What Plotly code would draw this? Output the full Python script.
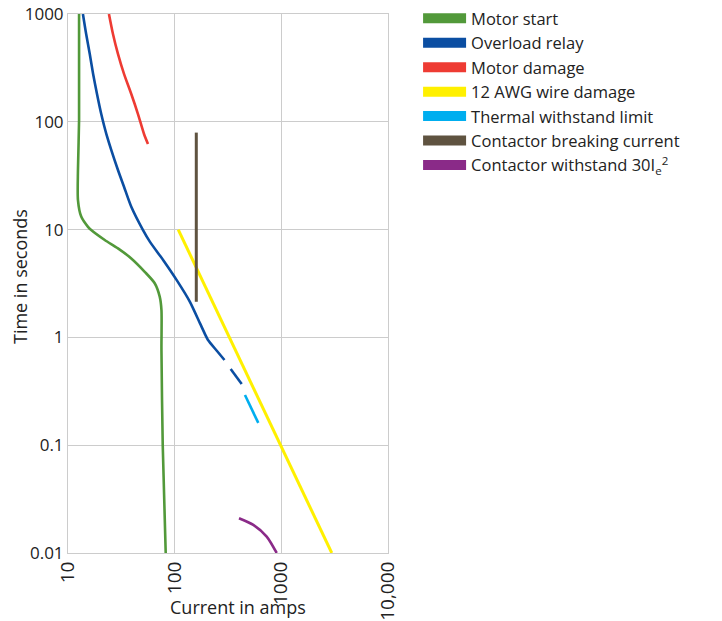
import plotly.graph_objects as go

# ---- data (current in amps, time in seconds) ----
motor_start_I = [12.7, 12.7, 12.4, 12.4, 13.3, 15.4, 16.5, 22.1, 29.4, 39.2, 52.4, 65.0, 72.4, 75.2, 75.2, 77.3, 82.4]
motor_start_t = [1000, 104, 35.7, 18.8, 13.2, 10.6, 9.9, 8.0, 6.7, 5.4, 4.06, 3.18, 2.39, 1.79, 0.76, 0.1, 0.01]

overload_I = [13.8, 14.8, 16.0, 17.2, 18.7, 20.5, 22.9, 29.4, 33.5, 39.2, 50.5, 58.7, 78.2, 104.5, 139, 172.8, 194.5, 205.3, 249.4, 293, None, 335, 425]
overload_t = [1000, 652, 426, 278, 181, 118, 77, 35.7, 25.0, 16.3, 9.9, 7.7, 5.2, 3.4, 2.14, 1.35, 1.05, 0.946, 0.748, 0.617, None, 0.509, 0.37]

motor_damage_I = [24.2, 26.4, 29.4, 33.5, 39.2, 45.3, 51.6, 56.2]
motor_damage_t = [1000, 652, 426, 278, 181, 118, 77, 62.2]

wire_damage_I = [108, 2970]
wire_damage_t = [10, 0.01]

thermal_I = [456, 608]
thermal_t = [0.292, 0.161]

breaking_I = [159.5, 159.5]
breaking_t = [79.4, 2.14]

withstand_I = [401, 546, 729, 905]
withstand_t = [0.021, 0.0182, 0.0142, 0.01]

x_tickvals = [10, 100, 1000, 10000]
x_ticktext = ["10", "100", "1000", "10,000"]
y_tickvals = [0.01, 0.1, 1, 10, 100, 1000]
y_ticktext = ["0.01", "0.1", "1", "10", "100", "1000"]

series = [
    ("Motor start", motor_start_I, motor_start_t, "#52993a", 2.6),
    ("Overload relay", overload_I, overload_t, "#0b4ea2", 2.6),
    ("Motor damage", motor_damage_I, motor_damage_t, "#ee3b33", 2.6),
    ("12 AWG wire damage", wire_damage_I, wire_damage_t, "#fff000", 3),
    ("Thermal withstand limit", thermal_I, thermal_t, "#00aeef", 2.6),
    ("Contactor breaking current", breaking_I, breaking_t, "#5f5340", 3),
    ("Contactor withstand 30I<sub>e</sub><sup>2</sup>", withstand_I, withstand_t, "#8a2a88", 2.6),
]

FONT = "Open Sans, Liberation Sans, Arial, sans-serif"
TXT = "#222222"
fig = go.Figure()
for i, (name, xs, ys, color, w) in enumerate(series):
    fig.add_trace(go.Scatter(x=xs, y=ys, mode="lines", name=name,
                             line=dict(color=color, width=w, shape="spline", smoothing=0.7),
                             showlegend=False, connectgaps=False))
# legend entries
for i, (name, xs, ys, color, w) in enumerate(series):
    fig.add_trace(go.Scatter(x=[None], y=[None], mode="lines", name=name,
                             legendgroup=f"g{i}",
                             line=dict(color=color, width=10),
                             showlegend=True))

grid = "#cccccc"
fig.update_layout(
    width=722, height=621,
    margin=dict(l=60, r=342, t=6, b=76, autoexpand=False),
    paper_bgcolor="white", plot_bgcolor="white",
    font=dict(family=FONT, color=TXT, size=17),
    legend=dict(x=1.094, y=1.024, xanchor="left", yanchor="top",
                font=dict(size=16.5, color=TXT),
                tracegroupgap=0, itemwidth=43, borderwidth=0,
                bgcolor="rgba(0,0,0,0)"),
    xaxis=dict(type="log", range=[1, 4], tickvals=x_tickvals, ticktext=x_ticktext,
               tickangle=-90, showgrid=True, gridcolor=grid, gridwidth=1,
               showline=True, linecolor=grid, linewidth=1, mirror=True,
               ticks="", zeroline=False, tickfont=dict(size=19, color=TXT), automargin=False,
               ticklabeloverflow="allow"),
    yaxis=dict(type="log", range=[-2, 3], tickvals=y_tickvals, ticktext=y_ticktext,
               showgrid=True, gridcolor=grid, gridwidth=1,
               showline=True, linecolor=grid, linewidth=1, mirror=True,
               ticks="", zeroline=False, tickfont=dict(size=17, color=TXT), automargin=False,
               ticklabeloverflow="allow"),
    annotations=[
        dict(text="Current in amps", xref="paper", yref="paper", x=0.531, y=-0.1,
             xanchor="center", yanchor="middle", showarrow=False,
             font=dict(size=18, color=TXT)),
        dict(text="Time in seconds", xref="paper", yref="paper", x=-0.15, y=0.512,
             xanchor="center", yanchor="middle", showarrow=False, textangle=-90,
             font=dict(size=18, color=TXT)),
    ],
)
fig.write_html("out.html")
